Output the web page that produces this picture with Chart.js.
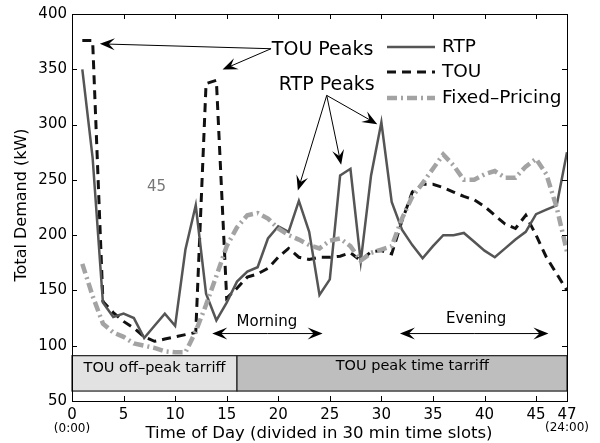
<!DOCTYPE html>
<html>
<head>
<meta charset="utf-8">
<script src="https://cdn.jsdelivr.net/npm/chart.js@4"></script>
<style>
  html, body { margin: 0; padding: 0; background: #fff; }
  #wrap { width: 600px; height: 443px; }
</style>
</head>
<body>
<div id="wrap"><canvas id="demandChart"></canvas></div>
<script>
// half-hour slots and demand (kW)
const slots = [1,2,3,4,5,6,7,8,9,10,11,12,13,14,15,16,17,18,19,20,21,22,23,24,
               25,26,27,28,29,30,31,32,33,34,35,36,37,38,39,40,41,42,43,44,45,46,47,48];
const rtp = [350,270,139,126,129,125,107,118,129,118,187,227,147,123,139,158,167,171,197,208,203,231,203,146,
             160,254,260,176,254,302,230,205,191,179,190,200,200,202,194,186,180,188,196,203,219,223,227,275];
const tou = [376,376,140,130,122,116,108,104,106,108,110,112,337,340,143,152,162,165,170,180,188,180,178,180,
             180,181,184,177,185,186,183,213,239,246,246,243,239,235,232,226,218,210,206,218,200,180,165,150];
const fixedPricing = [174,145,120,112,108,102,100,98,95,94,94,113,137,163,190,207,218,220,215,206,200,196,191,188,
                      195,197,190,177,184,187,190,215,235,247,260,273,263,250,250,255,258,252,252,262,269,255,225,185];

const xTicks = [0,5,10,15,20,25,30,35,40,45,48];
const xTickLabels = ['0','5','10','15','20','25','30','35','40','45','47'];
const yTicks = [50,100,150,200,250,300,350,400];

const FONT = '"DejaVu Sans", sans-serif';

function pts(vals) {
    return slots.map((s, i) => ({ x: s, y: vals[i] }));
}

function arrow(ctx, x1, y1, x2, y2) {
    const ang = Math.atan2(y2 - y1, x2 - x1);
    const len = 15, half = 6;
    ctx.beginPath();
    ctx.moveTo(x1, y1);
    ctx.lineTo(x2 - Math.cos(ang) * 6, y2 - Math.sin(ang) * 6);
    ctx.stroke();
    // barbed head like matlab
    const bx = x2 - Math.cos(ang) * len, by = y2 - Math.sin(ang) * len;
    const mx = x2 - Math.cos(ang) * len * 0.6, my = y2 - Math.sin(ang) * len * 0.6;
    ctx.beginPath();
    ctx.moveTo(x2, y2);
    ctx.lineTo(bx + Math.sin(ang) * half, by - Math.cos(ang) * half);
    ctx.lineTo(mx, my);
    ctx.lineTo(bx - Math.sin(ang) * half, by + Math.cos(ang) * half);
    ctx.closePath();
    ctx.fill();
}

const decor = {
    id: 'decor',
    beforeDatasetsDraw(chart) {
        const { ctx, scales: { x, y } } = chart;
        ctx.save();
        // tariff bars
        const top = y.getPixelForValue(91), bot = y.getPixelForValue(59);
        ctx.lineWidth = 1.2;
        ctx.strokeStyle = '#222';
        ctx.fillStyle = '#e2e2e2';
        ctx.fillRect(x.getPixelForValue(0), top, x.getPixelForValue(16) - x.getPixelForValue(0), bot - top);
        ctx.strokeRect(x.getPixelForValue(0), top, x.getPixelForValue(16) - x.getPixelForValue(0), bot - top);
        ctx.fillStyle = '#bebebe';
        ctx.fillRect(x.getPixelForValue(16), top, x.getPixelForValue(48) - x.getPixelForValue(16), bot - top);
        ctx.strokeRect(x.getPixelForValue(16), top, x.getPixelForValue(48) - x.getPixelForValue(16), bot - top);
        ctx.fillStyle = '#000';
        ctx.font = '14.5px ' + FONT;
        ctx.textAlign = 'center';
        ctx.textBaseline = 'middle';
        ctx.fillText('TOU off\u2013peak tarriff', x.getPixelForValue(8), y.getPixelForValue(80));
        ctx.fillText('TOU peak time tarriff', x.getPixelForValue(33), y.getPixelForValue(81.5));
        ctx.restore();
    },
    afterDraw(chart) {
        const { ctx, chartArea: a, scales: { x, y } } = chart;
        ctx.save();
        // box and inward ticks
        ctx.strokeStyle = '#000';
        ctx.lineWidth = 1;
        ctx.strokeRect(a.left + 0.5, a.top + 0.5, a.right - a.left, a.bottom - a.top);
        ctx.beginPath();
        xTicks.forEach(v => {
            const px = Math.round(x.getPixelForValue(v)) + 0.5;
            ctx.moveTo(px, a.bottom); ctx.lineTo(px, a.bottom - 5);
            ctx.moveTo(px, a.top); ctx.lineTo(px, a.top + 5);
        });
        yTicks.forEach(v => {
            const py = Math.round(y.getPixelForValue(v)) + 0.5;
            ctx.moveTo(a.left, py); ctx.lineTo(a.left + 5, py);
            ctx.moveTo(a.right, py); ctx.lineTo(a.right - 5, py);
        });
        ctx.stroke();

        // axis titles and time notes
        ctx.fillStyle = '#000';
        ctx.textAlign = 'center';
        ctx.textBaseline = 'middle';
        ctx.font = '16.5px ' + FONT;
        ctx.fillText('Time of Day (divided in 30 min time slots)', 319, 434);
        ctx.font = '12px ' + FONT;
        ctx.fillText('(0:00)', x.getPixelForValue(0), 429);
        ctx.fillText('(24:00)', x.getPixelForValue(48), 428);
        ctx.save();
        ctx.translate(22, 205);
        ctx.rotate(-Math.PI / 2);
        ctx.font = '16px ' + FONT;
        ctx.fillText('Total Demand (kW)', 0, 0);
        ctx.restore();

        // legend
        const legend = [
            { label: 'RTP', color: '#555', width: 2.5, dash: [], y: 47 },
            { label: 'TOU', color: '#111', width: 3, dash: [9, 6], y: 72 },
            { label: 'Fixed\u2013Pricing', color: '#a3a3a3', width: 4.5, dash: [10, 4, 2, 4], y: 98 }
        ];
        legend.forEach(l => {
            ctx.beginPath();
            ctx.strokeStyle = l.color;
            ctx.lineWidth = l.width;
            ctx.setLineDash(l.dash);
            ctx.moveTo(387, l.y); ctx.lineTo(435, l.y);
            ctx.stroke();
            ctx.setLineDash([]);
            ctx.fillStyle = '#000';
            ctx.textAlign = 'left';
            ctx.font = '18.5px ' + FONT;
            ctx.fillText(l.label, 442, l.y);
        });

        // peak annotations
        const P = (dx, dy) => [x.getPixelForValue(dx), y.getPixelForValue(dy)];
        ctx.fillStyle = '#000';
        ctx.strokeStyle = '#000';
        ctx.lineWidth = 1;
        ctx.textAlign = 'center';
        ctx.font = '19px ' + FONT;
        ctx.fillText('TOU Peaks', ...P(24.3, 367.5));
        ctx.fillText('RTP Peaks', ...P(24.7, 336));
        arrow(ctx, ...P(19.3, 368.6), ...P(2.7, 373));
        arrow(ctx, ...P(19.3, 368.6), ...P(14.6, 349.7));
        arrow(ctx, ...P(24.7, 326.4), ...P(21.9, 240.3));
        arrow(ctx, ...P(24.7, 326.4), ...P(26.1, 263.6));
        arrow(ctx, ...P(24.7, 326.4), ...P(29.6, 300.4));

        // morning / evening spans
        ctx.font = '15px ' + FONT;
        ctx.fillText('Morning', ...P(18.9, 121));
        ctx.fillText('Evening', ...P(39.2, 124.5));
        const [m1x, my] = P(13.6, 111), [m2x] = P(24.3, 111);
        arrow(ctx, (m1x + m2x) / 2, my, m1x, my);
        arrow(ctx, (m1x + m2x) / 2, my, m2x, my);
        const [e1x] = P(31.8, 111), [e2x] = P(46.2, 111);
        arrow(ctx, (e1x + e2x) / 2, my, e1x, my);
        arrow(ctx, (e1x + e2x) / 2, my, e2x, my);

        ctx.fillStyle = '#777';
        ctx.font = '15px ' + FONT;
        ctx.fillText('45', ...P(8.2, 243));
        ctx.restore();
    }
};

new Chart(document.getElementById('demandChart'), {
    type: 'line',
    data: {
        datasets: [
            {
                label: 'Fixed\u2013Pricing',
                data: pts(fixedPricing),
                borderColor: '#a3a3a3',
                borderWidth: 4.5,
                borderDash: [10, 4, 2, 4],
                pointRadius: 0,
                tension: 0,
                fill: false
            },
            {
                label: 'RTP',
                data: pts(rtp),
                borderColor: '#555',
                borderWidth: 2.5,
                pointRadius: 0,
                tension: 0,
                fill: false
            },
            {
                label: 'TOU',
                data: pts(tou),
                borderColor: '#111',
                borderWidth: 3,
                borderDash: [9, 6],
                pointRadius: 0,
                tension: 0,
                fill: false
            }
        ]
    },
    options: {
        responsive: true,
        maintainAspectRatio: false,
        animation: false,
        layout: { padding: { left: 0, right: 33, top: 11, bottom: 0 } },
        plugins: { legend: { display: false }, tooltip: { enabled: false } },
        scales: {
            x: {
                type: 'linear',
                min: 0,
                max: 48,
                afterBuildTicks: s => { s.ticks = xTicks.map(v => ({ value: v })); },
                afterFit: s => { s.height = 42; },
                grid: { display: false, drawTicks: false },
                border: { display: false },
                ticks: {
                    autoSkip: false,
                    maxRotation: 0,
                    padding: 5,
                    color: '#000',
                    font: { family: FONT, size: 15 },
                    callback: v => xTickLabels[xTicks.indexOf(v)]
                }
            },
            y: {
                min: 50,
                max: 400,
                afterBuildTicks: s => { s.ticks = yTicks.map(v => ({ value: v })); },
                afterFit: s => { s.width = 72; },
                grid: { display: false, drawTicks: false },
                border: { display: false },
                ticks: {
                    padding: 5,
                    color: '#000',
                    font: { family: FONT, size: 15 }
                }
            }
        }
    },
    plugins: [decor]
});
</script>
</body>
</html>
